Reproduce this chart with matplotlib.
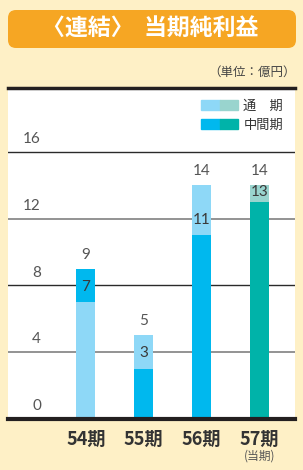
import matplotlib.pyplot as plt
import numpy as np
from matplotlib.legend_handler import HandlerTuple
from matplotlib.patches import FancyBboxPatch, Patch
from matplotlib.transforms import blended_transform_factory

OUTPUT_FILENAME = "out.png"

# Data (億円)
PERIODS = ["54期", "55期", "56期", "57期"]
FULL_YEAR = [9, 5, 14, 14]
INTERIM = [7, 3, 11, 13]
Y_TICKS = [0, 4, 8, 12, 16]

# Colours
CREAM = "#FEF0C6"
ORANGE = "#F6A623"
LIGHT_BLUE = "#8ED8F7"
BLUE = "#00B8EE"
LIGHT_TEAL = "#99D4CE"
TEAL = "#00B3A9"
GREY_TEXT = "#555555"

# which colour sits in the lower / upper part of each bar
LOWER_COLORS = [LIGHT_BLUE, BLUE, BLUE, TEAL]
UPPER_COLORS = [BLUE, LIGHT_BLUE, LIGHT_BLUE, LIGHT_TEAL]

CJK = ["Noto Sans CJK JP", "DejaVu Sans"]
NUM_FONT = ["Lato", "DejaVu Sans"]


def main() -> None:
    fig = plt.figure(figsize=(3.03, 4.70), dpi=100, facecolor=CREAM)

    # Title banner
    banner = FancyBboxPatch(
        (0.08, 4.22), 2.88, 0.38,
        boxstyle="round,pad=0,rounding_size=0.08",
        transform=fig.dpi_scale_trans, facecolor=ORANGE, edgecolor="none",
    )
    fig.patches.append(banner)
    fig.text(0.497, 1 - 29 / 470, "〈連結〉  当期純利益", family=CJK, weight="bold",
             size=16.5, color="white", ha="center", va="center")
    fig.text(296 / 303, 1 - 72 / 470, "（単位：億円）", family=CJK, size=9,
             color="#444444", ha="right", va="center")

    ax = fig.add_axes([8 / 303, 51.5 / 470, 287 / 303, 330.8 / 470])
    ax.set_facecolor("white")
    for side in ("left", "right"):
        ax.spines[side].set_visible(False)
    ax.spines["top"].set_linewidth(2.5)
    ax.spines["top"].set_color("#231F20")
    ax.spines["bottom"].set_linewidth(3)
    ax.spines["bottom"].set_color("#231F20")

    x = np.arange(len(PERIODS))
    width = 0.33
    ax.set_xlim(-1.35, 3.62)
    ax.set_ylim(0, 19.85)

    # gridlines, alternating grey / dark
    for i, val in enumerate(Y_TICKS[1:]):
        if i % 2 == 0:
            ax.axhline(val, color="#8A8A8A", lw=1.3, zorder=1)
        else:
            ax.axhline(val, color="#2A2A2A", lw=1.0, zorder=1)

    upper = np.subtract(FULL_YEAR, INTERIM)
    ax.bar(x, INTERIM, width, color=LOWER_COLORS, zorder=2)
    ax.bar(x, upper, width, bottom=INTERIM, color=UPPER_COLORS, zorder=2)

    # value labels
    for xi, total, mid in zip(x, FULL_YEAR, INTERIM):
        ax.annotate(str(total), (xi, total), xytext=(0, 5), textcoords="offset points",
                    ha="center", va="bottom", family=NUM_FONT,
                    size=11, color=GREY_TEXT)
        ax.text(xi, min(mid + 0.5, total - 0.8), str(mid), ha="center", va="bottom",
                family=NUM_FONT, size=11, color="#3A3A3A", zorder=3)

    # y tick labels drawn inside the plot, above each line
    ytrans = blended_transform_factory(ax.transAxes, ax.transData)
    for val in Y_TICKS:
        ax.annotate(str(val), (33 / 287, val), xycoords=ytrans, xytext=(0, 4),
                    textcoords="offset points", ha="right", va="bottom",
                    family=NUM_FONT, size=11, color=GREY_TEXT)
    ax.set_yticks([])

    ax.set_xticks(x, PERIODS)
    ax.tick_params(axis="x", length=0, pad=8)
    for lbl in ax.get_xticklabels():
        lbl.set_fontfamily(CJK)
        lbl.set_fontweight("bold")
        lbl.set_fontsize(13)
        lbl.set_color("#333333")
    xtrans = blended_transform_factory(ax.transData, ax.transAxes)
    ax.text(x[-1], -0.113, "(当期)", transform=xtrans, family=CJK, size=8.5,
            color=GREY_TEXT, ha="center", va="center")

    handles = [
        (Patch(color=LIGHT_BLUE), Patch(color=LIGHT_TEAL)),
        (Patch(color=BLUE), Patch(color=TEAL)),
    ]
    leg = ax.legend(handles, ["通　期", "中間期"], loc="upper right",
                    handler_map={tuple: HandlerTuple(ndivide=None, pad=0)},
                    frameon=False, prop={"family": CJK, "size": 9.5},
                    handlelength=2.8, handleheight=0.85, handletextpad=0.4,
                    labelspacing=0.45, borderaxespad=0.5, borderpad=0.4)
    for t in leg.get_texts():
        t.set_color("#333333")

    plt.savefig(OUTPUT_FILENAME, facecolor=CREAM)


if __name__ == "__main__":
    main()
